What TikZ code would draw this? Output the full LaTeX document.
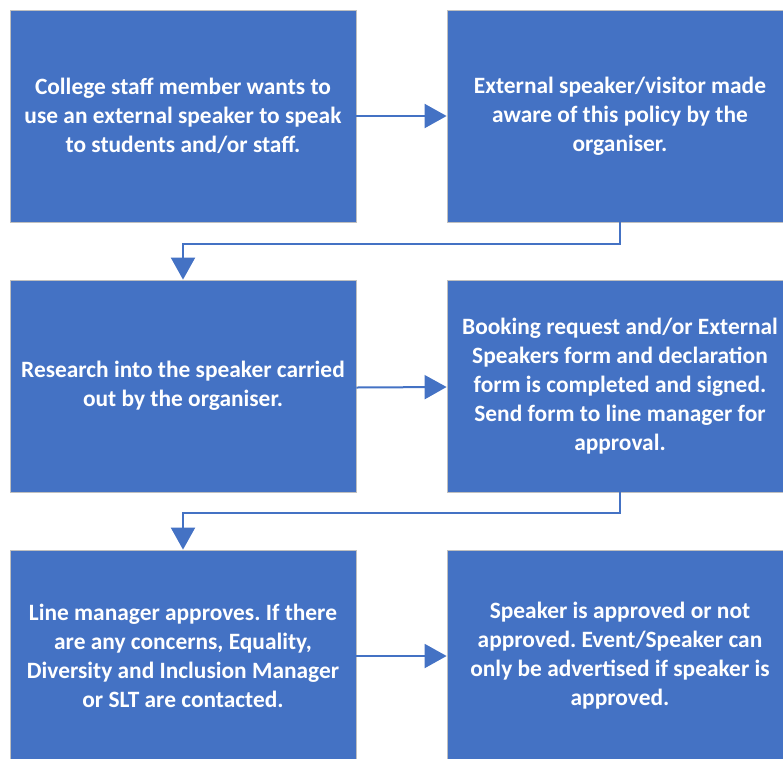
\documentclass[tikz,border=0pt]{standalone}
\usepackage{fontspec}
\setmainfont{Carlito}
\usepackage{tikz}
\usetikzlibrary{positioning}
\usetikzlibrary{shapes,arrows.meta}
\definecolor{officeblue}{RGB}{68,114,196}
\frenchspacing

\begin{document}
\begin{tikzpicture}[
      x=1pt, y=-1pt,
      stepbox/.style={draw=black!25, line width=0.8pt, fill=officeblue,
        text=white, minimum width=346pt, minimum height=212pt,
        align=center, inner sep=0pt, font=\fontsize{23.4}{29}\selectfont\bfseries},
      flow/.style={draw=officeblue, line width=2pt,
        -{Triangle[length=22pt,width=24pt]}}
    ]
    \useasboundingbox (0,0) rectangle (783,758);
    \node[stepbox] (request) at (183,116)
        {College staff member wants to\\use an external speaker to speak\\to students and/or staff.};
    \node[stepbox] (aware) at (620,116)
        {External speaker/visitor made\\aware of this policy by the\\organiser.};
    \node[stepbox] (research) at (183,386)
        {Research into the speaker carried\\out by the organiser.};
    \node[stepbox] (booking) at (620,386)
        {Booking request and/or External\\Speakers form and declaration\\form is completed and signed.\\Send form to line manager for\\approval.};
    \node[stepbox] (approves) at (183,656)
        {Line manager approves. If there\\are any concerns, Equality,\\Diversity and Inclusion Manager\\or SLT are contacted.};
    \node[stepbox] (outcome) at (620,656)
        {Speaker is approved or not\\approved. Event/Speaker can\\only be advertised if speaker is\\approved.};

    \draw[flow] (request.east) -- (request.east -| aware.west);
    \draw[flow] (aware.south) -- ++(0,22) -| (research.north);
    \draw[flow] (research.east) ++(0,1.5) -- (booking.west |- 0,387);
    \draw[flow] (booking.south) -- ++(0,21) -| (approves.north);
    \draw[flow] (approves.east) -- (approves.east -| outcome.west);
\end{tikzpicture}
\end{document}
